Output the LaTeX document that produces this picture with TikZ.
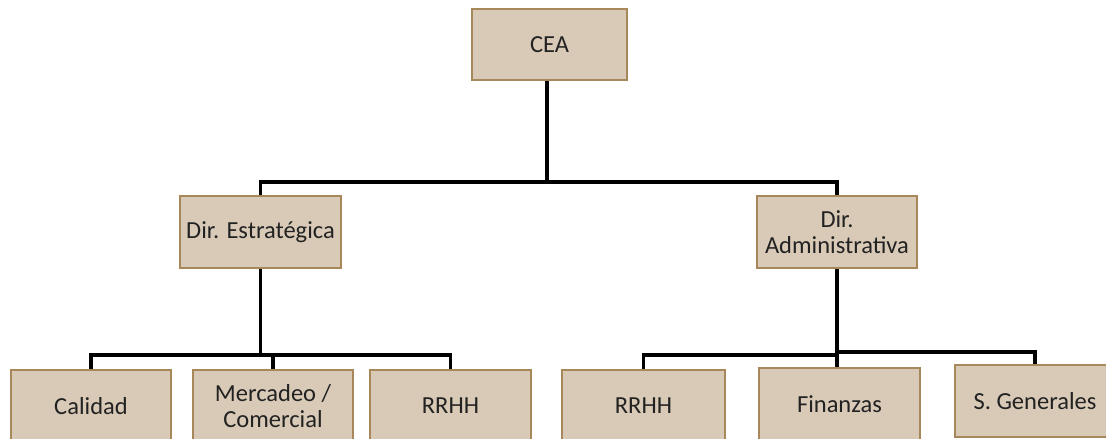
\documentclass[tikz,border=0pt]{standalone}
\usepackage{fontspec}
\setmainfont{Carlito}
\definecolor{boxfill}{HTML}{D9CAB8}
\definecolor{boxline}{HTML}{A8875A}
\definecolor{inktext}{HTML}{222222}
\tikzset{
  unit/.style={draw=boxline, fill=boxfill, line width=2.6pt, align=center,
    inner sep=0pt, text=inktext, font=\fontsize{24.5}{25.5}\selectfont},
  wire/.style={line width=3.2pt, black}
}
\begin{document}
\begin{tikzpicture}[x=1pt,y=-1pt]
  \useasboundingbox (0,0) rectangle (1106,439);
  \clip (0,0) rectangle (1106,439);

  % top levels
  \node[unit, minimum width=155pt, minimum height=71pt] (cea) at (549.5,44.5) {CEA};
  \node[unit, minimum width=161pt, minimum height=72pt] (estrat) at (260.5,232) {Dir. Estratégica};
  \node[unit, minimum width=160pt, minimum height=72pt] (admin) at (837,232) {Dir.\\Administrativa};

  % bottom level
  \node[unit, minimum width=160pt, minimum height=72pt] (calidad) at (91,406) {Calidad};
  \node[unit, minimum width=160pt, minimum height=72pt] (mercadeo) at (273,406) {Mercadeo /\\Comercial};
  \node[unit, minimum width=161pt, minimum height=72pt] (rrhhA) at (450.5,406) {RRHH};
  \node[unit, minimum width=163pt, minimum height=72pt] (rrhhB) at (643.5,406) {RRHH};
  \node[unit, minimum width=161pt, minimum height=72pt] (finanzas) at (839.5,404) {Finanzas};
  \node[unit, minimum width=160pt, minimum height=72pt] (sgen) at (1035,401) {S. Generales};

  % connectors
  \coordinate (busTop) at (547,182);
  \coordinate (busL) at (260.5,355);
  \coordinate (busR) at (837,355);
  \coordinate (busR2) at (837,352);

  \draw[wire] (cea.south -| busTop) -- (busTop) -| (estrat.north);
  \draw[wire] (busTop) -| (admin.north);

  \draw[wire] (estrat.south) -- (busL) -| (calidad.north);
  \draw[wire] (busL) -| (mercadeo.north);
  \draw[wire] (busL) -| (rrhhA.north);

  \draw[wire] (admin.south) -- (busR) -| (rrhhB.north);
  \draw[wire] (busR) -- (finanzas.north -| busR);
  \draw[wire] (busR2) -| (sgen.north);
\end{tikzpicture}
\end{document}
